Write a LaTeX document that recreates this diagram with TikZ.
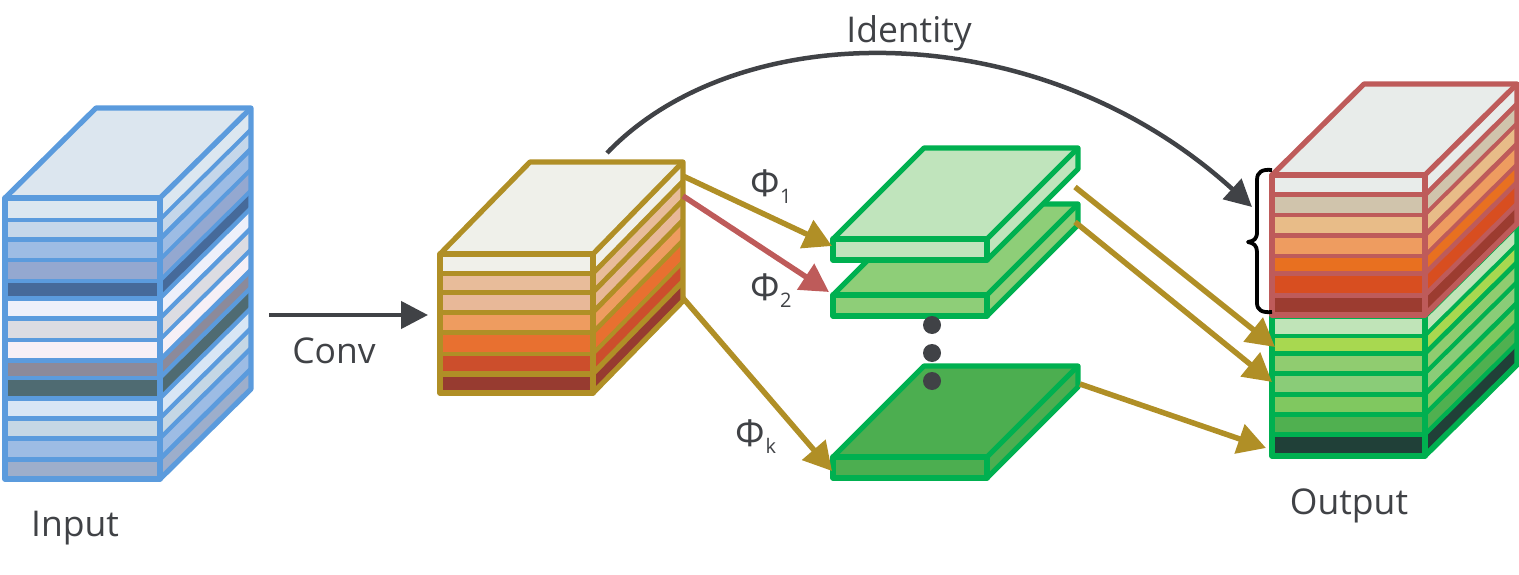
\documentclass[tikz,border=0pt]{standalone}
\usepackage{fontspec}
\setmainfont{Open Sans}
\usetikzlibrary{arrows.meta}
\definecolor{inkc}{HTML}{404246}
\definecolor{blueS}{HTML}{5B9BDD}
\definecolor{goldS}{HTML}{B08F26}
\definecolor{redS}{HTML}{BE5B5A}
\definecolor{greenS}{HTML}{00B050}
\tikzset{
  lbl/.style={text=inkc,font=\fontsize{35.5}{40}\selectfont,inner sep=0pt},
  philbl/.style={text=inkc,font=\fontsize{37}{42}\selectfont,inner sep=0pt},
  conn/.style={line width=5.5pt,-{Triangle[length=28pt,width=30pt]}},
  darkconn/.style={draw=inkc,line width=4.5pt,-{Triangle[length=27pt,width=27pt]}},
  dotn/.style={circle,fill=inkc,minimum size=18pt,inner sep=0pt},
  edgeln/.style={line width=5.2pt,line join=round},
}
% #1 xl, #2 xr, #3 ytop, #4 ybot, #5 dx, #6 dy, #7 stroke, #8 top fill hex, #9 bands a/b/hex
\newcommand{\stackbox}[9]{%
  \definecolor{topc}{HTML}{#8}%
  \fill[#7] (#1,#3) rectangle (#2,#4);
  \fill[#7] (#2,#3) -- (#2+#5,#3-#6) -- (#2+#5,#4-#6) -- (#2,#4) -- cycle;
  \fill[topc] (#1,#3) -- (#1+#5,#3-#6) -- (#2+#5,#3-#6) -- (#2,#3) -- cycle;
  \foreach \a/\b/\c in {#9}{
    \definecolor{bandc}{HTML}{\c}
    \fill[bandc] (#1+2.5,\a) rectangle (#2-2.5,\b);
    \begin{scope}
      \clip (#2+2,#3-2) -- (#2+#5-2,#3-#6) -- (#2+#5-2,#4-#6) -- (#2+2,#4-2) -- cycle;
      \fill[bandc] (#2,\a+1) -- (#2+#5,\a+1-#6) -- (#2+#5,\b-1-#6) -- (#2,\b-1) -- cycle;
    \end{scope}
  }
  \draw[#7,edgeln] (#1,#3) rectangle (#2,#4);
  \draw[#7,edgeln] (#2,#4) -- (#2+#5,#4-#6) -- (#2+#5,#3-#6) -- (#1+#5,#3-#6) -- (#1,#3);
  \draw[#7,edgeln] (#2,#3) -- (#2+#5,#3-#6);
}
\begin{document}
\begin{tikzpicture}[x=1pt,y=-1pt]
\useasboundingbox (0,0) rectangle (1519,575);

% input stack
\stackbox{5}{160}{198}{479}{91}{90}{blueS}{DCE6EF}{
  200/217.5/DCE7F0,221.5/236.5/C5D7EA,241.5/257.5/9DBCE4,261.5/278.5/94A8D0,
  282.5/296/466A9A,300.5/316/EEF0FA,320.5/337.5/DCDCE2,341.5/357.5/F6F0F6,
  362.5/375.5/8C8A9A,380/396/4F6B72,400.5/416/D8E6F5,420.5/436/C5D7E5,
  440.5/456.5/9DBCE4,461.5/477.5/9DAECB}

% conv stack
\stackbox{440}{593}{254}{393}{90}{92}{goldS}{EFF0EA}{
  256/270.5/F0F0EA,276/289.5/E8BC9A,295/309.5/E8B898,315/330/EE9C60,
  335/351.5/E87030,356/370.5/CC4E2C,376.5/390.5/973B30}

% feature slabs
\stackbox{833}{987}{295}{316}{91}{91}{greenS}{8ECE78}{297/314/8ECE78}
\stackbox{833}{987}{239}{260}{91}{91}{greenS}{C0E4BC}{241/258/C0E4BC}
\stackbox{833}{987}{457}{478}{91}{91}{greenS}{4CAE50}{459/476/4CAE50}

% output stack
\stackbox{1272}{1425}{316}{456}{92}{91}{greenS}{C0E4B8}{
  316.5/333.5/C0E4B8,337.5/351/A8D850,356/371/90CC70,375.5/391.5/8ACC78,
  396.5/412/80C860,416.5/432/50B050,436.5/452.5/204038}
\stackbox{1272}{1425}{175}{315}{92}{91}{redS}{E8ECEA}{
  177/192.5/E8ECEA,197.5/212.5/D0C4AC,216.5/232.5/E8BC88,237.5/253.5/EE9C60,
  257.5/271/E87020,276/292.5/D84E20,297.5/312/9C3C30}

% brace
\draw[black,line width=3.8pt,line join=round]
  (1272,170) .. controls (1262,169) and (1257,172) .. (1257,180)
  -- (1257,232) .. controls (1257,239) and (1254,241) .. (1248,242)
  .. controls (1254,243) and (1257,246) .. (1257,252)
  -- (1257,303) .. controls (1257,310) and (1262,313) .. (1272,312);

% connector ends
\coordinate (inR) at (269,315);
\coordinate (convL) at (428,315);
\coordinate (idS) at (607,153);
\coordinate (idE) at (1252,207);
\coordinate (cA) at (683,176);
\coordinate (cB) at (683,196);
\coordinate (cC) at (683,298);
\coordinate (s1L) at (832,246);
\coordinate (s2L) at (829,292);
\coordinate (skL) at (832,471);
\coordinate (s1R) at (1075,187);
\coordinate (s2R) at (1075,222);
\coordinate (skR) at (1080,384);
\coordinate (o1) at (1275,347);
\coordinate (o2) at (1272,382);
\coordinate (o3) at (1266,448);

\draw[darkconn] (inR) -- (convL);
\draw[darkconn] (idS) .. controls (740,14) and (1040,14) .. (idE);
\draw[conn,draw=redS,fill=redS] (cB) -- (s2L);
\draw[conn,goldS] (cA) -- (s1L);
\draw[conn,goldS] (cC) -- (skL);
\draw[conn,goldS] (s1R) -- (o1);
\draw[conn,goldS] (s2R) -- (o2);
\draw[conn,goldS] (skR) -- (o3);

% dots
\node[dotn] (d1) at (932,325) {};
\node[dotn] (d2) at (932,353) {};
\node[dotn] (d3) at (932,381) {};

% labels
\node[lbl] (lInput) at (75,528) {Input};
\node[lbl] (lConv) at (334,351) {Conv};
\node[lbl] (lId) at (909,33) {Identity};
\node[lbl] (lOut) at (1349,506) {Output};
\node[philbl] (p1) at (771,187) {Φ\raisebox{-7pt}{\fontsize{20}{22}\selectfont 1}};
\node[philbl] (p2) at (771,291) {Φ\raisebox{-7pt}{\fontsize{20}{22}\selectfont 2}};
\node[philbl] (pk) at (756,437) {Φ\raisebox{-7pt}{\fontsize{20}{22}\selectfont k}};
\end{tikzpicture}
\end{document}
